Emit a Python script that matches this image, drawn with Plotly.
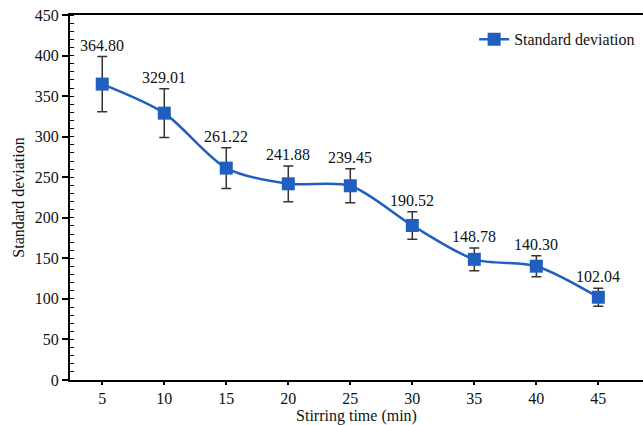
import plotly.graph_objects as go

stirring_time = [5, 10, 15, 20, 25, 30, 35, 40, 45]
std_dev = [364.80, 329.01, 261.22, 241.88, 239.45, 190.52, 148.78, 140.30, 102.04]
err = [34, 30, 25, 22, 21, 17, 14, 13, 11]
labels = ["364.80", "329.01", "261.22", "241.88", "239.45", "190.52", "148.78", "140.30", "102.04"]

blue = "#1F5FBF"
font = "Liberation Serif, Times New Roman, serif"

fig = go.Figure()
fig.add_trace(go.Scatter(
    x=stirring_time, y=std_dev, mode="lines+markers",
    name="Standard deviation",
    line=dict(color=blue, width=2.5, shape="spline", smoothing=0.8),
    marker=dict(symbol="square", size=13, color=blue),
    error_y=dict(type="data", array=err, visible=True, color="#333333", thickness=1.5, width=5),
))

for x, y, e, t in zip(stirring_time, std_dev, err, labels):
    fig.add_annotation(x=x, y=y + e, text=t, showarrow=False, yanchor="bottom", yshift=1,
                       font=dict(family=font, size=16, color="#111111"))

fig.update_layout(
    width=643, height=425,
    margin=dict(l=70, r=0, t=15, b=45, autoexpand=False),
    paper_bgcolor="white", plot_bgcolor="white",
    font=dict(family=font, size=16, color="#111111"),
    showlegend=True,
    legend=dict(x=0.995, y=0.98, xanchor="right", yanchor="top", font=dict(family=font, size=16),
                bgcolor="rgba(0,0,0,0)", itemwidth=30, tracegroupgap=0),
)
fig.update_xaxes(
    range=[2.4, 48.6], tickvals=stirring_time, ticktext=[str(v) for v in stirring_time],
    showline=True, linecolor="black", linewidth=2, mirror=True, showgrid=False, zeroline=False,
    ticks="outside", ticklen=3, tickwidth=1.5, tickcolor="black",
    tickfont=dict(family=font, size=16), automargin=False,
    title=dict(text="Stirring time (min)", font=dict(family=font, size=16), standoff=0),
)
fig.update_yaxes(
    range=[0, 450], dtick=50, showline=True, linecolor="black", linewidth=2, showgrid=False,
    zeroline=False, ticks="outside", ticklen=6, tickwidth=1.5, tickcolor="black",
    minor=dict(dtick=10, ticks="inside", ticklen=4, tickwidth=1.2, tickcolor="black"),
    tickfont=dict(family=font, size=16), automargin=False,
    title=dict(text="Standard deviation", font=dict(family=font, size=16), standoff=6),
)

fig.write_html("out.html", config={"displayModeBar": False},
               post_script="document.body.style.margin='0';document.body.style.overflow='hidden';")
